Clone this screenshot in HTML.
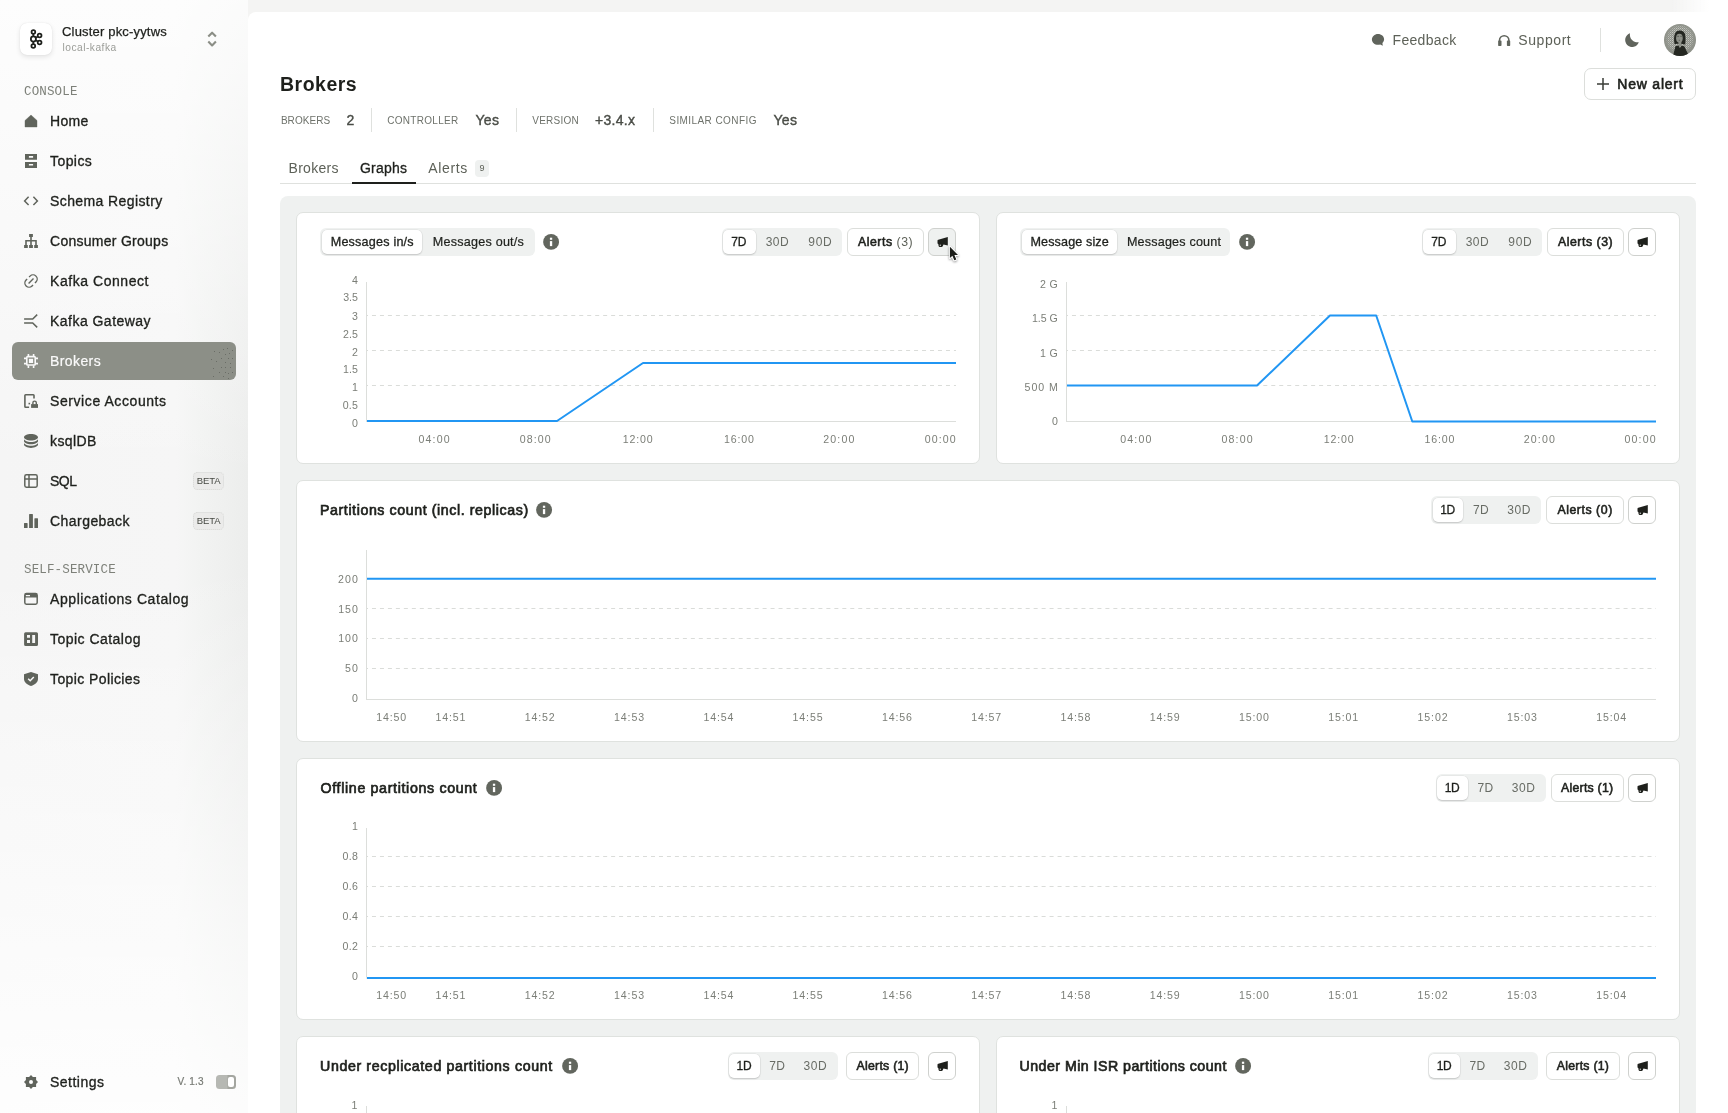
<!DOCTYPE html>
<html lang="en"><head><meta charset="utf-8"><title>Brokers</title>
<style>
*{box-sizing:border-box;margin:0;padding:0}
html,body{width:1728px;height:1113px;overflow:hidden}
body{font-family:"Liberation Sans",sans-serif;color:#1e201c;position:relative;
 background:#f4f4f3}
#root{position:absolute;left:0;top:0;width:1728px;height:1113px;will-change:transform;opacity:.999}
.a{position:absolute;white-space:nowrap}
svg{position:absolute;overflow:visible}
#side{position:absolute;left:0;top:0;width:248px;height:1113px;background:linear-gradient(180deg,rgba(255,255,255,.8) 0,rgba(255,255,255,0) 480px,rgba(255,255,255,0) 560px,rgba(255,255,255,.85) 1113px),linear-gradient(90deg,#f5f5f5 0,#f6f6f6 176px,#f2f3f2 200px,#ecedec 248px)}
#main{position:absolute;left:248px;top:12px;width:1480px;height:1101px;background:#fff;border-top-left-radius:8px}
/* sidebar */
.nav{position:absolute;left:50px;font-size:14px;line-height:20px;color:#1e201c;white-space:nowrap;-webkit-text-stroke:.33px #1e201c}
.sec{position:absolute;left:24px;font-family:"Liberation Mono",monospace;font-size:12.5px;line-height:14px;color:#7d8079;white-space:nowrap}
.beta{position:absolute;left:193.2px;width:30.4px;height:17.4px;border:1px dotted #d6d7d5;border-radius:4.5px;background:#ebebea;font-size:9.5px;line-height:15.2px;text-align:center;color:#454842;letter-spacing:-.1px;padding-left:.3px}
/* main */
.tab{position:absolute;top:158px;font-size:14px;line-height:20px;color:#5d6158;white-space:nowrap}
.sl{position:absolute;top:114.3px;font-size:10px;line-height:14px;color:#6e726b;white-space:nowrap}
.sv{position:absolute;top:109.5px;font-size:14px;line-height:20px;color:#4a4d47;white-space:nowrap;-webkit-text-stroke:0.4px #4a4d47}
.sd{position:absolute;top:108px;width:1px;height:24px;background:#dfe1de}
.card{position:absolute;background:#fff;border:1px solid #dfe2df;border-radius:7px}
.seg{position:absolute;height:28px;background:#eff1f0;border-radius:6px}
.pill{position:absolute;top:2px;height:24px;background:#fff;border-radius:5px;box-shadow:0 1px 1.5px rgba(30,32,28,.16),0 0 0 .5px rgba(30,32,28,.07)}
.st{position:absolute;top:0;height:28px;line-height:28px;font-size:12px;color:#686c65;white-space:nowrap}
.st.on{color:#1e201c;-webkit-text-stroke:0.3px #1e201c}
.st13{font-size:12.6px;letter-spacing:.22px}
.btn{position:absolute;height:28px;border:1px solid #dcdedb;border-radius:6px;background:#fff;font-size:12.3px;line-height:27px;color:#1e201c;white-space:nowrap;-webkit-text-stroke:.58px #1e201c}
.ct{position:absolute;font-size:14.2px;line-height:20px;color:#1e201c;white-space:nowrap;-webkit-text-stroke:.68px #1e201c}
.yl{position:absolute;font-size:10.6px;line-height:12px;color:#7b7e77;text-align:right;white-space:nowrap;letter-spacing:.5px}
.xl{position:absolute;font-size:10.6px;line-height:12px;color:#7b7e77;text-align:center;white-space:nowrap;letter-spacing:.8px;width:50px;margin-left:-25px}
</style></head><body><div id="root">

<!-- SIDEBAR -->
<div id="side"></div>
<div class="a" style="left:20px;top:23px;width:32px;height:32px;background:#fff;border-radius:7px;box-shadow:0 2px 5px rgba(0,0,0,.10),0 0 1px rgba(0,0,0,.12)"></div>
<div class="a" style="left:62px;top:23px;font-size:13px;line-height:18px;letter-spacing:.18px;-webkit-text-stroke:.25px #1e201c">Cluster pkc-yytws</div>
<div class="a" style="left:62.5px;top:42px;font-size:10.2px;line-height:12px;letter-spacing:.5px;color:#9b9d98">local-kafka</div>
<div class="sec" style="top:85px;letter-spacing:.15px">CONSOLE</div>
<div class="nav" style="top:111px;letter-spacing:.3px">Home</div>
<div class="nav" style="top:151px;letter-spacing:.43px">Topics</div>
<div class="nav" style="top:191px;letter-spacing:.4px">Schema Registry</div>
<div class="nav" style="top:231px;letter-spacing:.27px">Consumer Groups</div>
<div class="nav" style="top:271px;letter-spacing:.55px">Kafka Connect</div>
<div class="nav" style="top:311px;letter-spacing:.47px">Kafka Gateway</div>
<div class="a" style="left:12px;top:342px;width:224px;height:38px;background:#8c8f87;border-radius:6px"></div>
<div class="nav" style="top:351px;letter-spacing:.4px;color:#fafafa;-webkit-text-stroke:.2px #fafafa">Brokers</div>
<div class="nav" style="top:391px;letter-spacing:.58px">Service Accounts</div>
<div class="nav" style="top:431px;letter-spacing:.4px">ksqlDB</div>
<div class="nav" style="top:471px;letter-spacing:-.5px">SQL</div>
<div class="nav" style="top:511px;letter-spacing:.45px">Chargeback</div>
<div class="beta" style="top:472.2px">BETA</div>
<div class="beta" style="top:512.2px">BETA</div>
<div class="sec" style="top:562.5px;letter-spacing:.15px">SELF-SERVICE</div>
<div class="nav" style="top:589px;letter-spacing:.58px">Applications Catalog</div>
<div class="nav" style="top:629px;letter-spacing:.47px">Topic Catalog</div>
<div class="nav" style="top:669px;letter-spacing:.4px">Topic Policies</div>
<div class="nav" style="top:1072px;letter-spacing:.48px">Settings</div>
<div class="a" style="left:177.5px;top:1076px;font-size:10px;line-height:12px;letter-spacing:.17px;color:#777a74;-webkit-text-stroke:.2px #777a74">V. 1.3</div>
<div class="a" style="left:216px;top:1075px;width:20px;height:14px;border-radius:3.5px;background:linear-gradient(90deg,#b6b8b3 0,#b6b8b3 11px,#a4a6a0 12px)"></div>
<div class="a" style="left:228px;top:1077px;width:6px;height:10px;border-radius:2px;background:#fff"></div>
<svg width="248" height="1113" style="left:0;top:0" fill="#60645c" stroke="none">
 <!-- kafka logo -->
 <g fill="none" stroke="#1e201c" stroke-width="1.75">
  <circle cx="33.4" cy="31.9" r="1.85"/><circle cx="33.4" cy="39" r="2.55"/><circle cx="33.3" cy="46.1" r="1.9"/>
  <circle cx="39.6" cy="35.4" r="1.9"/><circle cx="39.6" cy="42.6" r="1.9"/>
  <path d="M33.3 33.8v2.9M33.3 41.3v2.9M35.3 37.9l2.6-1.5M35.3 40.1l2.6 1.5"/>
 </g>
 <!-- chevrons -->
 <path d="M208.3 36.6l3.8-3.9 3.8 3.9M208.3 41.6l3.8 3.9 3.8-3.9" fill="none" stroke="#8b8e86" stroke-width="2.1" stroke-linejoin="round"/>
 <!-- home -->
 <path d="M25 127v-6.5l6-5.5 6 5.5v6.5z" stroke="#60645c" stroke-width=".4" stroke-linejoin="round"/>
 <!-- topics -->
 <path d="M25 154.1h12v5.7h-12zM28.9 156h4.2v1.7h-4.2zM25 162h12v5.9h-12zM28.9 163.9h4.2v1.7h-4.2z" fill-rule="evenodd"/>
 <!-- code -->
 <path d="M28.6 196.7l-4 4.2 4 4.2M33.4 196.7l4 4.2-4 4.2" fill="none" stroke="#60645c" stroke-width="1.5"/>
 <!-- consumer groups -->
 <path d="M29.1 234.1h3.8v2.9h-3.8zM24.1 244.9h3.7v3h-3.7zM29.1 244.9h3.8v3h-3.8zM34.2 244.9h3.7v3h-3.7z"/>
 <path d="M31 237v8M26 245v-4.3h10v4.3" fill="none" stroke="#60645c" stroke-width="1.6"/>
 <!-- link -->
 <g transform="translate(22.7 272.7) scale(.695)"><path d="M18.364 15.536L16.95 14.12l1.414-1.414a5 5 0 1 0-7.071-7.071L9.879 7.05 8.464 5.636 9.88 4.222a7 7 0 0 1 9.9 9.9l-1.415 1.414zm-2.828 2.828l-1.415 1.414a7 7 0 0 1-9.9-9.9l1.415-1.414L7.05 9.88l-1.414 1.414a5 5 0 1 0 7.071 7.071l1.414-1.414 1.415 1.414zm-.708-10.607l1.415 1.415-7.071 7.07-1.415-1.414 7.071-7.07z"/></g>
 <!-- gateway -->
 <path d="M24.1 319h8.6l4.5-4.4M24.1 322.9h8.6l4.5 4.5" fill="none" stroke="#60645c" stroke-width="1.5"/>
 <!-- cpu (white) -->
 <g fill="none" stroke="#fafafa" stroke-width="1.6"><rect x="26.8" y="356.6" width="8.4" height="8.4" rx=".8"/>
  <path d="M28.4 354v2.2M33.6 354v2.2M28.4 365.6v2.4M33.6 365.6v2.4M24 358.4h2.4M24 363.6h2.4M35.6 358.4h2.4M35.6 363.6h2.4"/></g>
 <rect x="28.9" y="358.8" width="4.2" height="4.2" fill="#fafafa"/>
 <!-- dots on active -->
 <g fill="#6a6d66"><path d="M214 351h1v1h-1zM219 352h1v1h-1zM223 349h1v1h-1zM227 348h1v1h-1zM232 350h1v1h-1zM225 354h1v1h-1zM229 353h1v1h-1zM211 359h1v1h-1zM216 361h1v1h-1zM221 358h1v1h-1zM228 358h1v1h-1zM232 358h1v1h-1zM225 362h1v1h-1zM230 363h1v1h-1zM213 368h1v1h-1zM221 367h1v1h-1zM225 367h1v1h-1zM230 367h1v1h-1zM219 372h1v1h-1zM225 372h1v1h-1zM228 373h1v1h-1zM232 372h1v1h-1zM213 376h1v1h-1zM223 376h1v1h-1zM228 378h1v1h-1z"/></g>
 <!-- service accounts -->
 <path d="M34 398.6v-3.1a.7.7 0 0 0-.7-.7h-7.7a.7.7 0 0 0-.7.7v11a.7.7 0 0 0 .7.7h3.5" fill="none" stroke="#60645c" stroke-width="1.6"/>
 <rect x="28.5" y="402.8" width="1.6" height="1.6"/>
 <rect x="31.1" y="404.1" width="6.9" height="3.8"/>
 <path d="M32.9 404.4v-1.6a1.7 1.7 0 0 1 3.4 0v1.6" fill="none" stroke="#60645c" stroke-width="1.4"/>
 <!-- database -->
 <g transform="translate(21.67 431.8) scale(.778 .732)"><path d="M21 9.5v3c0 2.485-4.03 4.5-9 4.5s-9-2.015-9-4.5v-3c0 2.485 4.03 4.5 9 4.5s9-2.015 9-4.5zm-18 5c0 2.485 4.03 4.5 9 4.5s9-2.015 9-4.5v3c0 2.485-4.03 4.5-9 4.5s-9-2.015-9-4.5v-3zm9-2.5c-4.97 0-9-2.015-9-4.5S7.03 3 12 3s9 2.015 9 4.5-4.03 4.5-9 4.5z"/></g>
 <!-- table -->
 <g fill="none" stroke="#60645c" stroke-width="1.5"><rect x="24.8" y="474.8" width="12.4" height="12.4" rx="1.6"/><path d="M29 475v12M25 479.1h12"/></g>
 <!-- bars -->
 <path d="M24 523.4a.5.5 0 0 1 .5-.5h2.6a.5.5 0 0 1 .5.5v4.5h-3.6zM29.1 514.6a.5.5 0 0 1 .5-.5h2.8a.5.5 0 0 1 .5.5v13.3h-3.8zM34.4 518.7a.5.5 0 0 1 .5-.5h2.6a.5.5 0 0 1 .5.5v9.2h-3.6z"/>
 <!-- window -->
 <rect x="24.8" y="593.6" width="12.4" height="10.6" rx="1.6" fill="none" stroke="#60645c" stroke-width="1.5"/>
 <path d="M25 594h12v3.6h-12zM25.7 594.9h4.3v1.3h-4.3z" fill-rule="evenodd"/>
 <!-- topic catalog -->
 <path d="M25.6 632.2h10.9a1.5 1.5 0 0 1 1.5 1.5v10.7a1.5 1.5 0 0 1-1.5 1.5h-10.9a1.5 1.5 0 0 1-1.5-1.5v-10.7a1.5 1.5 0 0 1 1.5-1.5zM27 635.1v2.7h3v-2.7zM27 640.1v2.9h3v-2.9zM32.2 635.1v7.9h2.9v-7.9z" fill-rule="evenodd"/>
 <!-- shield -->
 <path d="M31 672l7 2.3v4.4c0 3.5-3 6-7 7.2-4-1.2-7-3.7-7-7.2v-4.4z"/>
 <path d="M28.2 678.7l2 2 3.6-3.8" fill="none" stroke="#fafafa" stroke-width="1.5"/>
 <!-- settings -->
 <path d="M31 1075l1.9 1.9h3.2v3.2l1.9 1.9-1.9 1.9v3.2h-3.2l-1.9 1.9-1.9-1.9h-3.2v-3.2l-1.9-1.9 1.9-1.9v-3.2h3.2zM31 1080a2 2 0 1 0 0 4 2 2 0 0 0 0-4z" fill-rule="evenodd"/>
</svg>

<!-- MAIN -->
<div id="main"></div>
<!-- top strip fade -->
<div class="a" style="left:1670px;top:0;width:58px;height:12px;background:linear-gradient(90deg,rgba(255,255,255,0),#fff 70%)"></div>
<!-- top bar -->
<svg width="340" height="40" style="left:1360px;top:20px" fill="#60645c">
 <path d="M18 13.9c3.4 0 6.1 2.4 6.1 5.4 0 1.5-.7 2.8-1.7 3.8l.4 2.7-2.6-1.3c-.7.2-1.4.3-2.2.3-3.4 0-6.1-2.4-6.1-5.4s2.7-5.5 6.1-5.5z"/>
 <path d="M139.5 26v-5.5a4.7 4.7 0 0 1 9.4 0v5.5" fill="none" stroke="#60645c" stroke-width="1.6"/>
 <rect x="138.2" y="20.6" width="3.3" height="5.4" rx=".8"/><rect x="146.9" y="20.6" width="3.3" height="5.4" rx=".8"/>
 <path d="M270 13.3A7 7 0 1 0 278.8 22.2A7.6 7.6 0 0 1 270 13.3z"/>
</svg>
<div class="a" style="left:1392.5px;top:30px;font-size:14px;line-height:20px;letter-spacing:.33px;color:#5d6158">Feedback</div>
<div class="a" style="left:1518.3px;top:30px;font-size:14px;line-height:20px;letter-spacing:.57px;color:#5d6158">Support</div>
<div class="a" style="left:1600px;top:28px;width:1px;height:24px;background:#dfe1de"></div>
<!-- avatar -->
<svg width="32" height="32" style="left:1664px;top:24px">
 <defs><clipPath id="av"><circle cx="16" cy="16" r="16"/></clipPath>
 <pattern id="dz" width="2" height="2" patternUnits="userSpaceOnUse"><rect width="1" height="1" fill="#c3c5bf"/><rect x="1" y="1" width="1" height="1" fill="#a9aca5"/></pattern>
 <radialGradient id="dm" cx="16" cy="15" r="14.5" gradientUnits="userSpaceOnUse"><stop offset="0" stop-color="#fff"/><stop offset=".78" stop-color="#fff"/><stop offset="1" stop-color="#000"/></radialGradient>
 <mask id="mk"><rect width="32" height="32" fill="url(#dm)"/></mask></defs>
 <g clip-path="url(#av)"><rect width="32" height="32" fill="#8f928a"/>
  <rect width="32" height="32" fill="url(#dz)" mask="url(#mk)"/>
  <path d="M10.6 20.3C9.6 15 9.8 9.5 12.8 7.3 14.8 6 18.3 6.2 20 8.3 22 10.8 21.7 17 21.2 20.4L17.8 20 12.8 19.8z" fill="#242721"/>
  <ellipse cx="15.4" cy="14.2" rx="3.3" ry="4.4" fill="#8d9088"/>
  <path d="M14.4 17.5h3v5h-3z" fill="#8d9088"/>
  <path d="M13.3 12.3h1.6M16.4 12.3h1.3M14.8 16.3h1" stroke="#3a3d37" stroke-width=".7"/>
  <path d="M9 32L11.4 22.3 14.4 21.5 15.9 24 17.5 21.7 20.3 22.3 25 32z" fill="#242721"/>
 </g>
</svg>
<!-- title row -->
<div class="a" style="left:280px;top:71px;font-size:19.5px;line-height:26px;font-weight:700;letter-spacing:.5px;color:#1e201c">Brokers</div>
<div class="a" style="left:1584px;top:68px;width:112px;height:32px;border:1px solid #dcdedb;border-radius:7px;background:#fff"></div>
<svg width="14" height="14" style="left:1596px;top:77px"><path d="M7 1v12M1 7h12" stroke="#3a3d37" stroke-width="1.5" fill="none"/></svg>
<div class="a" style="left:1617.3px;top:74px;font-size:14px;line-height:20px;letter-spacing:.78px;color:#1e201c;-webkit-text-stroke:.62px #1e201c">New alert</div>
<!-- stats -->
<div class="sl" style="left:280.9px;letter-spacing:.05px">BROKERS</div><div class="sv" style="left:346.5px">2</div>
<div class="sd" style="left:371px"></div>
<div class="sl" style="left:387.2px;letter-spacing:.3px">CONTROLLER</div><div class="sv" style="left:475.5px;letter-spacing:.3px">Yes</div>
<div class="sd" style="left:516px"></div>
<div class="sl" style="left:532.2px;letter-spacing:.27px">VERSION</div><div class="sv" style="left:595px;letter-spacing:.3px">+3.4.x</div>
<div class="sd" style="left:653px"></div>
<div class="sl" style="left:669.3px;letter-spacing:.42px">SIMILAR CONFIG</div><div class="sv" style="left:773.5px;letter-spacing:.3px">Yes</div>
<!-- tabs -->
<div class="a" style="left:280px;top:183px;width:1416px;height:1px;background:#dfe1de"></div>
<div class="tab" style="left:288.5px;letter-spacing:.31px">Brokers</div>
<div class="tab" style="left:360px;letter-spacing:.2px;color:#1e201c;-webkit-text-stroke:.3px #1e201c">Graphs</div>
<div class="a" style="left:352px;top:182px;width:64px;height:2px;background:#1e201c"></div>
<div class="tab" style="left:428.3px;letter-spacing:.65px">Alerts</div>
<div class="a" style="left:475px;top:159.5px;width:14px;height:17.5px;border-radius:4px;background:#eff1f0;font-size:9px;line-height:17.5px;text-align:center;color:#5d6158">9</div>
<!-- gray container -->
<div class="a" style="left:280px;top:196px;width:1416px;height:930px;background:#eff1f0;border-radius:8px"></div>

<!-- card 1 -->
<div class="card" style="left:296px;top:212px;width:684px;height:252px"></div>
<div class="seg" style="left:320px;top:228px;width:215px"><div class="pill" style="left:2px;width:100px"></div><div class="st st13 on" style="left:10.7px;letter-spacing:.2px">Messages in/s</div><div class="st st13" style="left:112.7px;letter-spacing:.23px;color:#1e201c;-webkit-text-stroke:.2px #1e201c">Messages out/s</div></div>
<svg width="16" height="16" style="left:543px;top:234px"><circle cx="8.1" cy="7.9" r="7.95" fill="#62665e"/><rect x="6.9" y="7.1" width="2.3" height="5" fill="#fff"/><rect x="6.9" y="3.7" width="2.3" height="2.1" fill="#fff"/></svg>
<div class="btn" style="left:928px;top:228px;width:28px;background:#eff1f0;border-color:#cfd1ce"></div>
<svg width="12" height="12" style="left:936.5px;top:236px" fill="#1e201c"><path d="M.5 4.7Q.5 3.9 1.3 3.7L10.8 1V9.6L6.5 8.4 5.7 10.3Q5.4 10.9 4.6 10.9H2.5Q1.7 10.9 1.6 10.1L1.3 8Q.5 7.8 .5 7z"/><circle cx="3.3" cy="9.3" r=".7" fill="#c9cbc7"/></svg>
<div class="btn" style="left:847px;top:228px;width:76.6px;text-align:center;letter-spacing:0.55px;padding-left:0.55px">Alerts <span style="-webkit-text-stroke:0;color:#5d6158">(3)</span></div>
<div class="seg" style="left:721.6px;top:228px;width:120.6px">
<div class="pill" style="left:1.5px;width:32.5px"></div>
<div class="st on" style="left:-12.9px;width:60px;text-align:center;letter-spacing:-0.2px">7D</div>
<div class="st" style="left:25.9px;width:60px;text-align:center;letter-spacing:0.55px">30D</div>
<div class="st" style="left:68.8px;width:60px;text-align:center;letter-spacing:0.7px">90D</div>
</div>
<svg width="594" height="147" style="left:365px;top:280px" fill="none"><path d="M2 35.5H591" stroke="#dadcd9" stroke-width="1" stroke-dasharray="4 3.972" stroke-dashoffset="3"/><path d="M2 70.5H591" stroke="#dadcd9" stroke-width="1" stroke-dasharray="4 3.972" stroke-dashoffset="3"/><path d="M2 105.5H591" stroke="#dadcd9" stroke-width="1" stroke-dasharray="4 3.972" stroke-dashoffset="3"/><path d="M1.5 2V141" stroke="#dcdedb" stroke-width="1"/><path d="M1 141.5H591" stroke="#dcdedb" stroke-width="1"/><path d="M2 141 L192 141 L278 83 L591 83" stroke="#2196f3" stroke-width="2" stroke-linejoin="round"/></svg>
<div class="yl" style="left:298.1px;width:60px;top:273.8px;letter-spacing:0.3px">4</div>
<div class="yl" style="left:297.7px;width:60px;top:291.4px;letter-spacing:-0.1px">3.5</div>
<div class="yl" style="left:298.1px;width:60px;top:309.6px;letter-spacing:0.3px">3</div>
<div class="yl" style="left:297.8px;width:60px;top:327.5px;letter-spacing:0px">2.5</div>
<div class="yl" style="left:298.1px;width:60px;top:345.5px;letter-spacing:0.3px">2</div>
<div class="yl" style="left:297.8px;width:60px;top:363.4px;letter-spacing:0px">1.5</div>
<div class="yl" style="left:298.1px;width:60px;top:381.4px;letter-spacing:0.3px">1</div>
<div class="yl" style="left:298px;width:60px;top:399.4px;letter-spacing:0.2px">0.5</div>
<div class="yl" style="left:298.1px;width:60px;top:417.3px;letter-spacing:0.3px">0</div>
<div class="xl" style="left:434.6px;top:433.2px;letter-spacing:1.15px">04:00</div>
<div class="xl" style="left:535.8px;top:433.2px;letter-spacing:1.15px">08:00</div>
<div class="xl" style="left:638.1px;top:433.2px;letter-spacing:0.85px">12:00</div>
<div class="xl" style="left:739.4px;top:433.2px;letter-spacing:0.85px">16:00</div>
<div class="xl" style="left:839.4px;top:433.2px;letter-spacing:1.15px">20:00</div>
<div class="xl" style="left:940.8px;top:433.2px;letter-spacing:1.15px">00:00</div>
<!-- card 2 -->
<div class="card" style="left:996px;top:212px;width:684px;height:252px"></div>
<div class="seg" style="left:1020px;top:228px;width:210px"><div class="pill" style="left:2px;width:95px"></div><div class="st st13 on" style="left:10.5px;letter-spacing:.11px">Message size</div><div class="st st13" style="left:106.9px;letter-spacing:.18px;color:#1e201c;-webkit-text-stroke:.2px #1e201c">Messages count</div></div>
<svg width="16" height="16" style="left:1239px;top:234px"><circle cx="8.1" cy="7.9" r="7.95" fill="#62665e"/><rect x="6.9" y="7.1" width="2.3" height="5" fill="#fff"/><rect x="6.9" y="3.7" width="2.3" height="2.1" fill="#fff"/></svg>
<div class="btn" style="left:1628px;top:228px;width:28px;border-color:#cfd1ce"></div>
<svg width="12" height="12" style="left:1636.5px;top:236px" fill="#1e201c"><path d="M.5 4.7Q.5 3.9 1.3 3.7L10.8 1V9.6L6.5 8.4 5.7 10.3Q5.4 10.9 4.6 10.9H2.5Q1.7 10.9 1.6 10.1L1.3 8Q.5 7.8 .5 7z"/><circle cx="3.3" cy="9.3" r=".7" fill="#c9cbc7"/></svg>
<div class="btn" style="left:1547px;top:228px;width:76.6px;text-align:center;letter-spacing:0.55px;padding-left:0.55px">Alerts (3)</div>
<div class="seg" style="left:1421.6px;top:228px;width:120.6px">
<div class="pill" style="left:1.5px;width:32.5px"></div>
<div class="st on" style="left:-12.9px;width:60px;text-align:center;letter-spacing:-0.2px">7D</div>
<div class="st" style="left:25.9px;width:60px;text-align:center;letter-spacing:0.55px">30D</div>
<div class="st" style="left:68.8px;width:60px;text-align:center;letter-spacing:0.7px">90D</div>
</div>
<svg width="594" height="147" style="left:1065px;top:280px" fill="none"><path d="M2 35.5H591" stroke="#dadcd9" stroke-width="1" stroke-dasharray="4 3.972" stroke-dashoffset="3"/><path d="M2 70.5H591" stroke="#dadcd9" stroke-width="1" stroke-dasharray="4 3.972" stroke-dashoffset="3"/><path d="M2 105.5H591" stroke="#dadcd9" stroke-width="1" stroke-dasharray="4 3.972" stroke-dashoffset="3"/><path d="M1.5 2V141" stroke="#dcdedb" stroke-width="1"/><path d="M1 141.5H591" stroke="#dcdedb" stroke-width="1"/><path d="M2 105.5 L192 105.5 L265 35.5 L311.2 35.5 L347.3 141.5 L591 141.5" stroke="#2196f3" stroke-width="2" stroke-linejoin="round"/></svg>
<div class="yl" style="left:998.1px;width:60px;top:278.3px;letter-spacing:0.3px">2 G</div>
<div class="yl" style="left:997.8px;width:60px;top:312.4px;letter-spacing:0px">1.5 G</div>
<div class="yl" style="left:998.1px;width:60px;top:346.5px;letter-spacing:0.3px">1 G</div>
<div class="yl" style="left:998.8px;width:60px;top:380.6px;letter-spacing:0.95px">500 M</div>
<div class="yl" style="left:998.1px;width:60px;top:414.7px;letter-spacing:0.3px">0</div>
<div class="xl" style="left:1136.4px;top:433.2px;letter-spacing:1.15px">04:00</div>
<div class="xl" style="left:1237.6px;top:433.2px;letter-spacing:1.15px">08:00</div>
<div class="xl" style="left:1339.2px;top:433.2px;letter-spacing:0.85px">12:00</div>
<div class="xl" style="left:1439.9px;top:433.2px;letter-spacing:0.85px">16:00</div>
<div class="xl" style="left:1539.9px;top:433.2px;letter-spacing:1.15px">20:00</div>
<div class="xl" style="left:1640.6px;top:433.2px;letter-spacing:1.15px">00:00</div>
<!-- card 3 -->
<div class="card" style="left:296px;top:480px;width:1384px;height:262px"></div>
<div class="ct" style="left:320px;top:500px;letter-spacing:.59px">Partitions count (incl. replicas)</div>
<svg width="16" height="16" style="left:536px;top:502px"><circle cx="8.1" cy="7.9" r="7.95" fill="#62665e"/><rect x="6.9" y="7.1" width="2.3" height="5" fill="#fff"/><rect x="6.9" y="3.7" width="2.3" height="2.1" fill="#fff"/></svg>
<div class="btn" style="left:1628px;top:496px;width:28px;border-color:#cfd1ce"></div>
<svg width="12" height="12" style="left:1636.5px;top:504px" fill="#1e201c"><path d="M.5 4.7Q.5 3.9 1.3 3.7L10.8 1V9.6L6.5 8.4 5.7 10.3Q5.4 10.9 4.6 10.9H2.5Q1.7 10.9 1.6 10.1L1.3 8Q.5 7.8 .5 7z"/><circle cx="3.3" cy="9.3" r=".7" fill="#c9cbc7"/></svg>
<div class="btn" style="left:1546.1px;top:496px;width:77.5px;text-align:center;letter-spacing:0.55px;padding-left:0.55px">Alerts (0)</div>
<div class="seg" style="left:1431.3px;top:496px;width:110px">
<div class="pill" style="left:1.5px;width:30.5px"></div>
<div class="st on" style="left:-13.7px;width:60px;text-align:center;letter-spacing:-0.3px">1D</div>
<div class="st" style="left:19.6px;width:60px;text-align:center;letter-spacing:0.3px">7D</div>
<div class="st" style="left:57.8px;width:60px;text-align:center;letter-spacing:0.55px">30D</div>
</div>
<svg width="1294" height="157" style="left:365px;top:548px" fill="none"><path d="M2 60.5H1291" stroke="#dadcd9" stroke-width="1" stroke-dasharray="4 3.972" stroke-dashoffset="3"/><path d="M2 90.5H1291" stroke="#dadcd9" stroke-width="1" stroke-dasharray="4 3.972" stroke-dashoffset="3"/><path d="M2 120.5H1291" stroke="#dadcd9" stroke-width="1" stroke-dasharray="4 3.972" stroke-dashoffset="3"/><path d="M1.5 2V151" stroke="#dcdedb" stroke-width="1"/><path d="M1 151.5H1291" stroke="#dcdedb" stroke-width="1"/><path d="M2 30.7 L1291 30.7" stroke="#2196f3" stroke-width="2" stroke-linejoin="round"/></svg>
<div class="yl" style="left:298.8px;width:60px;top:572.5px;letter-spacing:1px">200</div>
<div class="yl" style="left:298.7px;width:60px;top:602.5px;letter-spacing:0.9px">150</div>
<div class="yl" style="left:298.7px;width:60px;top:632.3px;letter-spacing:0.9px">100</div>
<div class="yl" style="left:298.7px;width:60px;top:662.2px;letter-spacing:0.9px">50</div>
<div class="yl" style="left:298.1px;width:60px;top:691.8px;letter-spacing:0.3px">0</div>
<div class="xl" style="left:391.7px;top:711.3px;letter-spacing:0.85px">14:50</div>
<div class="xl" style="left:450.9px;top:711.3px;letter-spacing:0.85px">14:51</div>
<div class="xl" style="left:540.2px;top:711.3px;letter-spacing:0.85px">14:52</div>
<div class="xl" style="left:629.5px;top:711.3px;letter-spacing:0.85px">14:53</div>
<div class="xl" style="left:718.8px;top:711.3px;letter-spacing:0.85px">14:54</div>
<div class="xl" style="left:808px;top:711.3px;letter-spacing:0.85px">14:55</div>
<div class="xl" style="left:897.3px;top:711.3px;letter-spacing:0.85px">14:56</div>
<div class="xl" style="left:986.6px;top:711.3px;letter-spacing:0.85px">14:57</div>
<div class="xl" style="left:1075.9px;top:711.3px;letter-spacing:0.85px">14:58</div>
<div class="xl" style="left:1165.2px;top:711.3px;letter-spacing:0.85px">14:59</div>
<div class="xl" style="left:1254.4px;top:711.3px;letter-spacing:0.85px">15:00</div>
<div class="xl" style="left:1343.7px;top:711.3px;letter-spacing:0.85px">15:01</div>
<div class="xl" style="left:1433px;top:711.3px;letter-spacing:0.85px">15:02</div>
<div class="xl" style="left:1522.3px;top:711.3px;letter-spacing:0.85px">15:03</div>
<div class="xl" style="left:1611.6px;top:711.3px;letter-spacing:0.85px">15:04</div>
<!-- card 4 -->
<div class="card" style="left:296px;top:758px;width:1384px;height:262px"></div>
<div class="ct" style="left:320.5px;top:778px;letter-spacing:.67px">Offline partitions count</div>
<svg width="16" height="16" style="left:486px;top:780px"><circle cx="8.1" cy="7.9" r="7.95" fill="#62665e"/><rect x="6.9" y="7.1" width="2.3" height="5" fill="#fff"/><rect x="6.9" y="3.7" width="2.3" height="2.1" fill="#fff"/></svg>
<div class="btn" style="left:1628px;top:774px;width:28px;border-color:#cfd1ce"></div>
<svg width="12" height="12" style="left:1636.5px;top:782px" fill="#1e201c"><path d="M.5 4.7Q.5 3.9 1.3 3.7L10.8 1V9.6L6.5 8.4 5.7 10.3Q5.4 10.9 4.6 10.9H2.5Q1.7 10.9 1.6 10.1L1.3 8Q.5 7.8 .5 7z"/><circle cx="3.3" cy="9.3" r=".7" fill="#c9cbc7"/></svg>
<div class="btn" style="left:1550.6px;top:774px;width:73px;text-align:center;letter-spacing:0.25px;padding-left:0.25px">Alerts (1)</div>
<div class="seg" style="left:1435.8px;top:774px;width:110px">
<div class="pill" style="left:1.5px;width:30.5px"></div>
<div class="st on" style="left:-13.7px;width:60px;text-align:center;letter-spacing:-0.3px">1D</div>
<div class="st" style="left:19.6px;width:60px;text-align:center;letter-spacing:0.3px">7D</div>
<div class="st" style="left:57.8px;width:60px;text-align:center;letter-spacing:0.55px">30D</div>
</div>
<svg width="1294" height="157.5" style="left:365px;top:826px" fill="none"><path d="M2 30.5H1291" stroke="#dadcd9" stroke-width="1" stroke-dasharray="4 3.972" stroke-dashoffset="3"/><path d="M2 60.5H1291" stroke="#dadcd9" stroke-width="1" stroke-dasharray="4 3.972" stroke-dashoffset="3"/><path d="M2 90.5H1291" stroke="#dadcd9" stroke-width="1" stroke-dasharray="4 3.972" stroke-dashoffset="3"/><path d="M2 120.5H1291" stroke="#dadcd9" stroke-width="1" stroke-dasharray="4 3.972" stroke-dashoffset="3"/><path d="M1.5 2V151.5" stroke="#dcdedb" stroke-width="1"/><path d="M1 152H1291" stroke="#dcdedb" stroke-width="1"/><path d="M2 152 L1291 152" stroke="#2196f3" stroke-width="2" stroke-linejoin="round"/></svg>
<div class="yl" style="left:298.1px;width:60px;top:819.6px;letter-spacing:0.3px">1</div>
<div class="yl" style="left:298.1px;width:60px;top:849.6px;letter-spacing:0.3px">0.8</div>
<div class="yl" style="left:298.1px;width:60px;top:879.6px;letter-spacing:0.3px">0.6</div>
<div class="yl" style="left:298.1px;width:60px;top:910px;letter-spacing:0.3px">0.4</div>
<div class="yl" style="left:298.1px;width:60px;top:940px;letter-spacing:0.3px">0.2</div>
<div class="yl" style="left:298.1px;width:60px;top:970px;letter-spacing:0.3px">0</div>
<div class="xl" style="left:391.7px;top:989.3px;letter-spacing:0.85px">14:50</div>
<div class="xl" style="left:450.9px;top:989.3px;letter-spacing:0.85px">14:51</div>
<div class="xl" style="left:540.2px;top:989.3px;letter-spacing:0.85px">14:52</div>
<div class="xl" style="left:629.5px;top:989.3px;letter-spacing:0.85px">14:53</div>
<div class="xl" style="left:718.8px;top:989.3px;letter-spacing:0.85px">14:54</div>
<div class="xl" style="left:808px;top:989.3px;letter-spacing:0.85px">14:55</div>
<div class="xl" style="left:897.3px;top:989.3px;letter-spacing:0.85px">14:56</div>
<div class="xl" style="left:986.6px;top:989.3px;letter-spacing:0.85px">14:57</div>
<div class="xl" style="left:1075.9px;top:989.3px;letter-spacing:0.85px">14:58</div>
<div class="xl" style="left:1165.2px;top:989.3px;letter-spacing:0.85px">14:59</div>
<div class="xl" style="left:1254.4px;top:989.3px;letter-spacing:0.85px">15:00</div>
<div class="xl" style="left:1343.7px;top:989.3px;letter-spacing:0.85px">15:01</div>
<div class="xl" style="left:1433px;top:989.3px;letter-spacing:0.85px">15:02</div>
<div class="xl" style="left:1522.3px;top:989.3px;letter-spacing:0.85px">15:03</div>
<div class="xl" style="left:1611.6px;top:989.3px;letter-spacing:0.85px">15:04</div>
<!-- card 5 -->
<div class="card" style="left:296px;top:1036px;width:684px;height:262px"></div>
<div class="ct" style="left:320px;top:1056px;letter-spacing:.63px">Under recplicated partitions count</div>
<svg width="16" height="16" style="left:562px;top:1058px"><circle cx="8.1" cy="7.9" r="7.95" fill="#62665e"/><rect x="6.9" y="7.1" width="2.3" height="5" fill="#fff"/><rect x="6.9" y="3.7" width="2.3" height="2.1" fill="#fff"/></svg>
<div class="btn" style="left:928px;top:1052px;width:28px;border-color:#cfd1ce"></div>
<svg width="12" height="12" style="left:936.5px;top:1060px" fill="#1e201c"><path d="M.5 4.7Q.5 3.9 1.3 3.7L10.8 1V9.6L6.5 8.4 5.7 10.3Q5.4 10.9 4.6 10.9H2.5Q1.7 10.9 1.6 10.1L1.3 8Q.5 7.8 .5 7z"/><circle cx="3.3" cy="9.3" r=".7" fill="#c9cbc7"/></svg>
<div class="btn" style="left:845.9px;top:1052px;width:73.5px;text-align:center;letter-spacing:0.25px;padding-left:0.25px">Alerts (1)</div>
<div class="seg" style="left:727.6px;top:1052px;width:110px">
<div class="pill" style="left:1.5px;width:30.5px"></div>
<div class="st on" style="left:-13.7px;width:60px;text-align:center;letter-spacing:-0.3px">1D</div>
<div class="st" style="left:19.6px;width:60px;text-align:center;letter-spacing:0.3px">7D</div>
<div class="st" style="left:57.8px;width:60px;text-align:center;letter-spacing:0.55px">30D</div>
</div>
<div class="yl" style="left:297.8px;width:60px;top:1099.3px">1</div>
<div class="a" style="left:366px;top:1106px;width:1px;height:10px;background:#dcdedb"></div>
<!-- card 6 -->
<div class="card" style="left:996px;top:1036px;width:684px;height:262px"></div>
<div class="ct" style="left:1019.5px;top:1056px;letter-spacing:.47px">Under Min ISR partitions count</div>
<svg width="16" height="16" style="left:1235px;top:1058px"><circle cx="8.1" cy="7.9" r="7.95" fill="#62665e"/><rect x="6.9" y="7.1" width="2.3" height="5" fill="#fff"/><rect x="6.9" y="3.7" width="2.3" height="2.1" fill="#fff"/></svg>
<div class="btn" style="left:1628px;top:1052px;width:28px;border-color:#cfd1ce"></div>
<svg width="12" height="12" style="left:1636.5px;top:1060px" fill="#1e201c"><path d="M.5 4.7Q.5 3.9 1.3 3.7L10.8 1V9.6L6.5 8.4 5.7 10.3Q5.4 10.9 4.6 10.9H2.5Q1.7 10.9 1.6 10.1L1.3 8Q.5 7.8 .5 7z"/><circle cx="3.3" cy="9.3" r=".7" fill="#c9cbc7"/></svg>
<div class="btn" style="left:1546px;top:1052px;width:73.8px;text-align:center;letter-spacing:0.25px;padding-left:0.25px">Alerts (1)</div>
<div class="seg" style="left:1427.8px;top:1052px;width:110px">
<div class="pill" style="left:1.5px;width:30.5px"></div>
<div class="st on" style="left:-13.7px;width:60px;text-align:center;letter-spacing:-0.3px">1D</div>
<div class="st" style="left:19.6px;width:60px;text-align:center;letter-spacing:0.3px">7D</div>
<div class="st" style="left:57.8px;width:60px;text-align:center;letter-spacing:0.55px">30D</div>
</div>
<div class="yl" style="left:997.8px;width:60px;top:1099.3px">1</div>
<div class="a" style="left:1066px;top:1106px;width:1px;height:10px;background:#dcdedb"></div>
<svg width="18" height="22" style="left:946px;top:243px"><path transform="translate(3.9 3.7)" d="M0 0V11.3L2.5 9.1 4.4 13.6 6.4 12.8 4.5 8.4H8.1z" fill="#1b1d19" stroke="#fff" stroke-width="2" stroke-linejoin="round" paint-order="stroke" style="filter:drop-shadow(0 1px 1.2px rgba(0,0,0,.4))"/></svg>
</div></body></html>
